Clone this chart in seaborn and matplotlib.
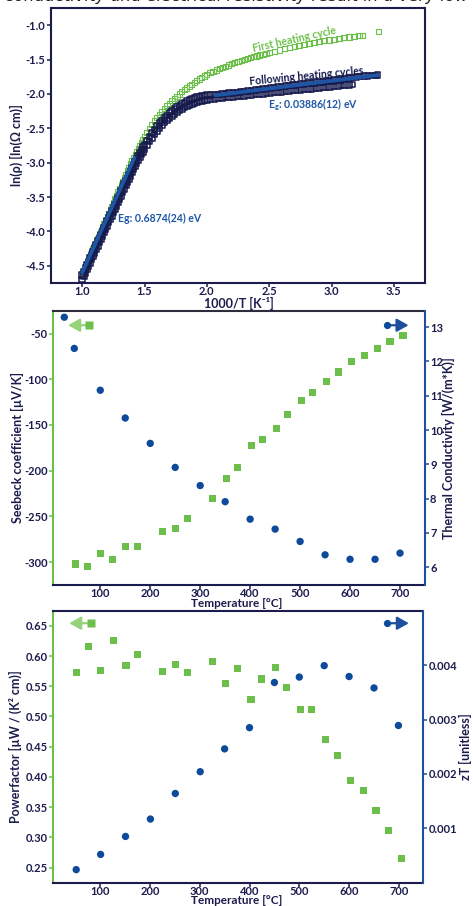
import matplotlib
matplotlib.use("Agg")
import matplotlib.pyplot as plt
from matplotlib.ticker import FormatStrFormatter
import pandas as pd
import seaborn as sns

# ---------------- resistivity: ln(rho) against 1000/T ----------------
inv_t_low = [
    1.0000, 1.0125, 1.0250, 1.0375, 1.0500, 1.0625, 1.0750, 1.0875, 1.1000, 1.1125,
    1.1250, 1.1375, 1.1500, 1.1625, 1.1750, 1.1875, 1.2000, 1.2125, 1.2250, 1.2375,
    1.2500, 1.2625, 1.2750, 1.2875, 1.3000, 1.3125, 1.3250, 1.3375, 1.3500, 1.3625,
    1.3750, 1.3875, 1.4000, 1.4125, 1.4250, 1.4375, 1.4500, 1.4625, 1.4750, 1.4875,
    1.50, 1.52, 1.54, 1.56, 1.58, 1.60, 1.62, 1.64, 1.66, 1.68,
    1.70, 1.72, 1.74, 1.76, 1.78, 1.80, 1.82, 1.84, 1.86, 1.88,
    1.90, 1.92, 1.94, 1.96, 1.98, 2.00,
]

inv_t_first = inv_t_low + [
    2.025, 2.050, 2.075, 2.100, 2.125, 2.150, 2.175, 2.200, 2.225, 2.250,
    2.275, 2.300, 2.325, 2.350, 2.375, 2.400, 2.425, 2.450, 2.475, 2.500,
    2.54, 2.58, 2.62, 2.66, 2.70, 2.74, 2.78, 2.82, 2.86, 2.90,
    2.94, 2.98, 3.02, 3.06, 3.10, 3.14, 3.18, 3.22, 3.25, 3.38,
]
lnrho_first = [
    -4.620, -4.568, -4.516, -4.464, -4.412, -4.360, -4.308, -4.256, -4.204, -4.152,
    -4.100, -4.048, -3.996, -3.944, -3.892, -3.840, -3.788, -3.736, -3.684, -3.632,
    -3.580, -3.528, -3.476, -3.424, -3.372, -3.321, -3.270, -3.219, -3.168, -3.118,
    -3.068, -3.019, -2.971, -2.924, -2.878, -2.833, -2.789, -2.746, -2.704, -2.663,
    -2.623, -2.561, -2.502, -2.446, -2.393, -2.343, -2.296, -2.252, -2.211, -2.172,
    -2.135, -2.100, -2.066, -2.033, -2.001, -1.970, -1.941, -1.913, -1.885, -1.858,
    -1.832, -1.807, -1.783, -1.760, -1.738, -1.716,
    -1.694, -1.673, -1.653, -1.634, -1.615, -1.597, -1.580, -1.563, -1.547, -1.531,
    -1.516, -1.501, -1.487, -1.473, -1.460, -1.447, -1.434, -1.421, -1.409, -1.397,
    -1.379, -1.361, -1.344, -1.327, -1.311, -1.296, -1.281, -1.267, -1.253, -1.240,
    -1.227, -1.215, -1.203, -1.192, -1.181, -1.171, -1.161, -1.150, -1.145, -1.090,
]

inv_t_cycle2 = inv_t_low + [
    2.03, 2.06, 2.09, 2.12, 2.15, 2.18, 2.21, 2.24, 2.27, 2.30,
    2.33, 2.36, 2.39, 2.42, 2.45, 2.48, 2.51, 2.54, 2.57, 2.60,
    2.63, 2.66, 2.69, 2.72, 2.75, 2.78, 2.81, 2.84, 2.87, 2.90,
    2.93, 2.96, 2.99, 3.02, 3.05, 3.08, 3.11, 3.14, 3.17,
]
lnrho_cycle2 = [
    -4.700, -4.651, -4.603, -4.554, -4.505, -4.456, -4.408, -4.359, -4.310, -4.261,
    -4.213, -4.164, -4.115, -4.066, -4.018, -3.969, -3.920, -3.871, -3.823, -3.774,
    -3.725, -3.676, -3.628, -3.579, -3.530, -3.481, -3.433, -3.384, -3.335, -3.287,
    -3.239, -3.191, -3.144, -3.098, -3.053, -3.009, -2.966, -2.924, -2.883, -2.843,
    -2.805, -2.746, -2.690, -2.637, -2.587, -2.540, -2.496, -2.455, -2.417, -2.381,
    -2.348, -2.318, -2.290, -2.264, -2.240, -2.218, -2.198, -2.180, -2.164, -2.149,
    -2.136, -2.124, -2.113, -2.103, -2.094, -2.086,
    -2.079, -2.073, -2.067, -2.061, -2.055, -2.050, -2.044, -2.038, -2.033, -2.027,
    -2.021, -2.016, -2.010, -2.004, -1.999, -1.993, -1.987, -1.982, -1.976, -1.970,
    -1.965, -1.959, -1.953, -1.948, -1.942, -1.936, -1.931, -1.925, -1.919, -1.914,
    -1.908, -1.902, -1.897, -1.891, -1.885, -1.880, -1.874, -1.868, -1.862,
]

inv_t_cycle3 = inv_t_low + [
    2.03, 2.06, 2.09, 2.12, 2.15, 2.18, 2.21, 2.24, 2.27, 2.30,
    2.33, 2.36, 2.39, 2.42, 2.45, 2.48, 2.51, 2.54, 2.57, 2.60,
    2.63, 2.66, 2.69, 2.72, 2.75, 2.78, 2.81, 2.84, 2.87, 2.90,
    2.93, 2.96, 2.99, 3.02, 3.05, 3.08, 3.11, 3.14, 3.17, 3.20,
    3.23, 3.26, 3.29, 3.32, 3.35, 3.37,
]
lnrho_cycle3 = [
    -4.630, -4.581, -4.533, -4.484, -4.435, -4.386, -4.338, -4.289, -4.240, -4.191,
    -4.143, -4.094, -4.045, -3.996, -3.948, -3.899, -3.850, -3.801, -3.753, -3.704,
    -3.655, -3.606, -3.558, -3.509, -3.460, -3.411, -3.363, -3.314, -3.265, -3.217,
    -3.169, -3.122, -3.075, -3.029, -2.984, -2.940, -2.897, -2.855, -2.814, -2.774,
    -2.735, -2.676, -2.620, -2.567, -2.517, -2.470, -2.426, -2.385, -2.347, -2.311,
    -2.278, -2.247, -2.218, -2.191, -2.166, -2.143, -2.122, -2.103, -2.086, -2.071,
    -2.058, -2.047, -2.038, -2.030, -2.023, -2.017,
    -2.013, -2.010, -2.006, -2.001, -1.996, -1.990, -1.984, -1.977, -1.970, -1.963,
    -1.956, -1.949, -1.942, -1.935, -1.928, -1.921, -1.914, -1.907, -1.900, -1.893,
    -1.886, -1.879, -1.872, -1.865, -1.858, -1.851, -1.844, -1.837, -1.830, -1.823,
    -1.816, -1.809, -1.802, -1.795, -1.788, -1.781, -1.774, -1.767, -1.760, -1.754,
    -1.748, -1.743, -1.738, -1.733, -1.729, -1.726,
]

# Arrhenius fits: ln(rho) = const + Eg / (2 kB T)
K_B = 8.617333e-5          # eV/K
eg_high = 0.6874           # eV, intrinsic region
eg_low = 0.03886           # eV, extrinsic region
fit_high_x = [1.00, 1.42]
fit_high_start = -4.60     # ln(rho) at the first fit_high_x
fit_low_x = [2.07, 3.37]
fit_low_end = -1.727       # ln(rho) at the last fit_low_x

# ---------------- Seebeck coefficient / thermal conductivity ----------------
t_seebeck = [51, 75, 100, 125, 150, 175, 225, 250, 275, 325, 352, 375, 403,
             425, 452, 475, 502, 525, 552, 576, 603, 628, 655, 680, 706]
seebeck = [-302, -305, -291, -297, -283, -283, -266, -263, -252, -230, -209, -196, -172,
           -166, -154, -139, -123, -114, -102, -92, -81, -74, -66, -59, -52]
t_kappa = [28, 48, 100, 150, 200, 250, 300, 350, 400, 450, 500, 550, 600, 650, 700]
kappa = [13.29, 12.38, 11.16, 10.35, 9.61, 8.91, 8.38, 7.91, 7.40, 7.11, 6.75,
         6.36, 6.23, 6.23, 6.41]

# ---------------- power factor / zT ----------------
t_pf = [52, 77, 101, 126, 152, 176, 226, 251, 275, 325, 352, 375, 403,
        425, 452, 474, 502, 525, 552, 576, 603, 628, 654, 679, 706]
powerfactor = [0.572, 0.616, 0.576, 0.625, 0.585, 0.603, 0.575, 0.586, 0.573, 0.591,
               0.555, 0.579, 0.528, 0.562, 0.581, 0.548, 0.511, 0.511, 0.462, 0.436,
               0.394, 0.377, 0.344, 0.311, 0.265]
t_zt = [52, 101, 151, 201, 251, 301, 350, 400, 450, 500, 550, 600, 650, 699]
zt = [0.00024, 0.00052, 0.00085, 0.00117, 0.00164, 0.00204, 0.00246, 0.00285,
      0.00368, 0.00378, 0.00399, 0.00379, 0.00358, 0.00289]

# ---------------- style ----------------
NAVY = "#1b1c4e"
DATA_NAVY = "#15194c"
GREEN = "#6cbf4a"
GREEN_ARROW = "#96d27a"
BLUE = "#0d4a9b"
FIT_BLUE = "#1d56a5"
AXIS_BLUE = "#1e4f9e"

sns.set_style("ticks")
plt.rcParams.update({
    "font.family": ["Lato", "DejaVu Sans"],
    "font.weight": "bold",
    "axes.labelweight": "bold",
    "axes.unicode_minus": False,
    "mathtext.fontset": "custom",
    "mathtext.rm": "Lato:bold",
    "mathtext.it": "Lato:bold",
    "mathtext.bf": "Lato:bold",
    "mathtext.default": "regular",
    "xtick.direction": "out",
    "ytick.direction": "out",
})

W, H = 473, 906
fig = plt.figure(figsize=(W / 100, H / 100), dpi=100)


def px_axes(left, top, right, bottom):
    return fig.add_axes([left / W, 1 - bottom / H, (right - left) / W, (bottom - top) / H])


def hollow(coll, color, lw):
    coll.set_facecolor("none")
    coll.set_edgecolor(color)
    coll.set_linewidth(lw)


def frame(ax, left_color=NAVY, right_color=NAVY, top_color=NAVY, bottom_color=NAVY):
    for side, c in (("left", left_color), ("right", right_color),
                    ("top", top_color), ("bottom", bottom_color)):
        ax.spines[side].set_color(c)
        ax.spines[side].set_linewidth(1.5)
    ax.tick_params(axis="both", length=3.0, width=1.1, labelsize=8,
                   labelcolor=NAVY)
    ax.tick_params(axis="x", color=bottom_color, pad=-0.5)
    ax.tick_params(axis="y", color=left_color, pad=1.0)


def direction_key(ax, marker_xy, tip_xy, marker, color, arrow_color):
    ax.annotate("", xy=tip_xy, xytext=marker_xy, xycoords="axes fraction",
                textcoords="axes fraction",
                arrowprops=dict(arrowstyle="-|>,head_length=0.5,head_width=0.28",
                                color=arrow_color, lw=1.6, shrinkA=0, shrinkB=0,
                                mutation_scale=14))
    ax.plot([marker_xy[0]], [marker_xy[1]], marker=marker, ms=5.2, color=color,
            mec="none", transform=ax.transAxes, clip_on=False, zorder=6)


# ================= panel 1: resistivity =================
ax1 = px_axes(51, 8, 425, 283)

first_df = pd.DataFrame({"inv_t": inv_t_first, "lnrho": lnrho_first})
sns.scatterplot(data=first_df, x="inv_t", y="lnrho", marker="s", s=14,
                color=GREEN, ax=ax1, zorder=2)
hollow(ax1.collections[-1], GREEN, 0.8)

for xs, ys in ((inv_t_cycle2, lnrho_cycle2), (inv_t_cycle3, lnrho_cycle3)):
    cyc_df = pd.DataFrame({"inv_t": xs, "lnrho": ys})
    sns.scatterplot(data=cyc_df, x="inv_t", y="lnrho", marker="s", s=16,
                    color=DATA_NAVY, ax=ax1, zorder=3)
    hollow(ax1.collections[-1], DATA_NAVY, 1.1)

slope_high = eg_high / (2 * K_B) / 1000
slope_low = eg_low / (2 * K_B) / 1000
fit_high_y = [fit_high_start + slope_high * (x - fit_high_x[0]) for x in fit_high_x]
fit_low_y = [fit_low_end + slope_low * (x - fit_low_x[-1]) for x in fit_low_x]
for fx, fy in ((fit_high_x, fit_high_y), (fit_low_x, fit_low_y)):
    sns.lineplot(x=fx, y=fy, color=FIT_BLUE, lw=2.6, ax=ax1, sort=False,
                 estimator=None, zorder=4)

ax1.text(2.70, -1.205, "First heating cycle", color=GREEN, fontsize=7.6,
         rotation=12.5, ha="center", va="center", zorder=6)
ax1.text(2.80, -1.745, "Following heating cycles", color=DATA_NAVY, fontsize=7.6,
         rotation=5.5, ha="center", va="center", zorder=6)
ax1.text(2.855, -2.163, r"E$_\mathregular{g}$: " + f"{eg_low:.5f}(12) eV",
         color=FIT_BLUE, fontsize=7.6, ha="center", va="center", zorder=6)
ax1.text(1.623, -3.815, f"Eg: {eg_high:.4f}(24) eV", color=FIT_BLUE, fontsize=7.6,
         ha="center", va="center", zorder=6)

ax1.set_xlim(0.75, 3.75)
ax1.set_ylim(-4.75, -0.75)
ax1.set_xticks([1.0, 1.5, 2.0, 2.5, 3.0, 3.5])
ax1.set_yticks([-1.0, -1.5, -2.0, -2.5, -3.0, -3.5, -4.0, -4.5])
ax1.xaxis.set_major_formatter(FormatStrFormatter("%.1f"))
ax1.yaxis.set_major_formatter(FormatStrFormatter("%.1f"))
frame(ax1)
ax1.set_xlabel("1000/T [K⁻¹]", fontsize=9, color=NAVY)
ax1.set_ylabel("ln(ρ) [ln(Ω cm)]", fontsize=9, color=NAVY)
ax1.xaxis.set_label_coords(0.502, -0.052)
ax1.yaxis.set_label_coords(-0.074, 0.5)

# ================= panel 2: Seebeck / thermal conductivity =================
ax2 = px_axes(53.3, 310.7, 424.5, 585)
ax2r = ax2.twinx()

sns.scatterplot(x=t_seebeck, y=seebeck, marker="s", s=26, color=GREEN,
                edgecolor="none", ax=ax2, zorder=3)
sns.scatterplot(x=t_kappa, y=kappa, marker="o", s=28, color=BLUE,
                edgecolor="none", ax=ax2r, zorder=3)

ax2.set_xlim(6, 749)
ax2.set_ylim(-325, -25)
ax2r.set_ylim(5.48, 13.48)
ax2.set_xticks([100, 200, 300, 400, 500, 600, 700])
ax2.set_yticks([-50, -100, -150, -200, -250, -300])
ax2r.set_yticks([6, 7, 8, 9, 10, 11, 12, 13])
frame(ax2, left_color=GREEN, right_color=AXIS_BLUE, top_color="#2c2c3c")
frame(ax2r, left_color=GREEN, right_color=AXIS_BLUE, top_color="#2c2c3c")
ax2r.tick_params(axis="y", color=AXIS_BLUE)
for side in ("left", "top", "bottom"):
    ax2r.spines[side].set_visible(False)
ax2.spines["right"].set_visible(False)

ax2.set_xlabel("Temperature [°C]", fontsize=8.5, color=NAVY)
ax2.set_ylabel("Seebeck coefficient [µV/K]", fontsize=9, color=NAVY)
ax2r.set_ylabel("Thermal Conductivity [W/(m*K)]", fontsize=9, color=NAVY)
ax2.xaxis.set_label_coords(0.494, -0.0474)
ax2.yaxis.set_label_coords(-0.08, 0.5)
ax2r.yaxis.set_label_coords(1.046, 0.5)

direction_key(ax2r, (0.097, 0.947), (0.040, 0.947), "s", GREEN, GREEN_ARROW)
direction_key(ax2r, (0.898, 0.947), (0.957, 0.947), "o", BLUE, AXIS_BLUE)

# ================= panel 3: power factor / zT =================
ax3 = px_axes(53.3, 610.7, 423.3, 882.7)
ax3r = ax3.twinx()

sns.scatterplot(x=t_pf, y=powerfactor, marker="s", s=26, color=GREEN,
                edgecolor="none", ax=ax3, zorder=3)
sns.scatterplot(x=t_zt, y=zt, marker="o", s=28, color=BLUE,
                edgecolor="none", ax=ax3r, zorder=3)

ax3.set_xlim(6, 749)
ax3.set_ylim(0.225, 0.675)
ax3r.set_ylim(0.0, 0.005)
ax3.set_xticks([100, 200, 300, 400, 500, 600, 700])
ax3.set_yticks([0.25, 0.30, 0.35, 0.40, 0.45, 0.50, 0.55, 0.60, 0.65])
ax3.yaxis.set_major_formatter(FormatStrFormatter("%.2f"))
ax3r.set_yticks([0.001, 0.002, 0.003, 0.004])
ax3r.yaxis.set_major_formatter(FormatStrFormatter("%.3f"))
frame(ax3, left_color=GREEN, right_color=AXIS_BLUE)
frame(ax3r, left_color=GREEN, right_color=AXIS_BLUE)
ax3r.tick_params(axis="y", color=AXIS_BLUE)
for side in ("left", "top", "bottom"):
    ax3r.spines[side].set_visible(False)
ax3.spines["right"].set_visible(False)

ax3.set_xlabel("Temperature [°C]", fontsize=8.5, color=NAVY)
ax3.set_ylabel("Powerfactor [µW / (K² cm)]", fontsize=9, color=NAVY)
ax3r.set_ylabel("zT [unitless]", fontsize=9, color=NAVY)
ax3.xaxis.set_label_coords(0.496, -0.047)
ax3.yaxis.set_label_coords(-0.085, 0.5)
ax3r.yaxis.set_label_coords(1.096, 0.5)

direction_key(ax3r, (0.102, 0.954), (0.043, 0.954), "s", GREEN, GREEN_ARROW)
direction_key(ax3r, (0.902, 0.954), (0.961, 0.954), "o", BLUE, AXIS_BLUE)

# running text of the page above the figure, cut by the top edge
fig.text(5 / W, 1 - 1.3 / H, "conductivity and electrical resistivity result in a very low zT",
         fontsize=11.8, style="italic", fontweight="normal", color="#1e1e1e",
         ha="left", va="baseline", family=["DejaVu Sans"])

fig.savefig("out.png", dpi=100)
